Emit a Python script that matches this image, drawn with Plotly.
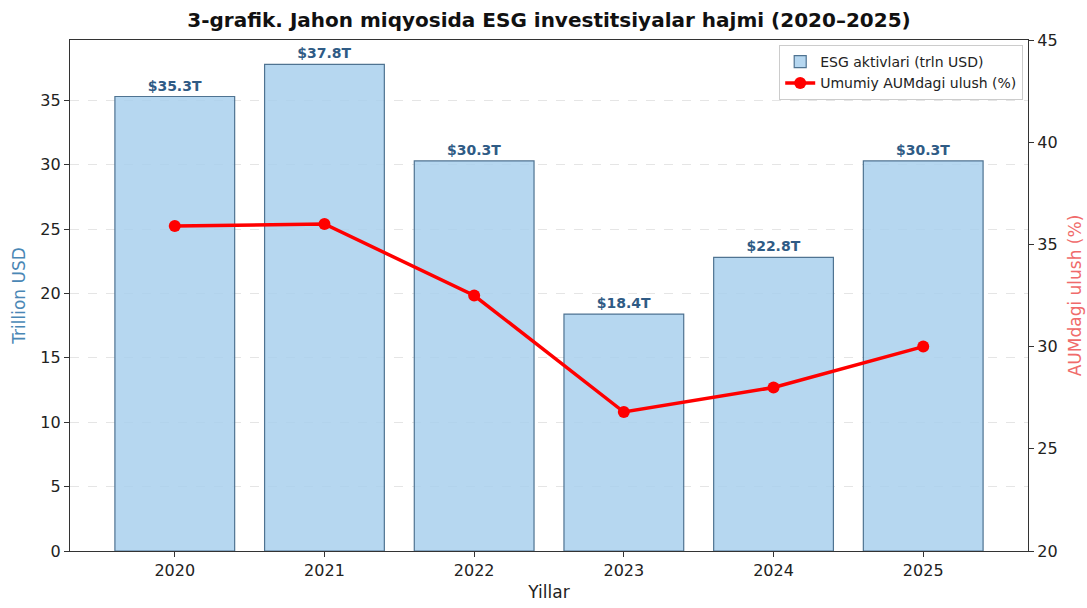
import plotly.graph_objects as go

years = ["2020", "2021", "2022", "2023", "2024", "2025"]
esg_assets = [35.3, 37.8, 30.3, 18.4, 22.8, 30.3]
aum_share = [35.9, 36.0, 32.5, 26.8, 28.0, 30.0]
bar_labels = ["$35.3T", "$37.8T", "$30.3T", "$18.4T", "$22.8T", "$30.3T"]
left_ticks = [0, 5, 10, 15, 20, 25, 30, 35]
right_ticks = [20, 25, 30, 35, 40, 45]

FONT = "DejaVu Sans"

fig = go.Figure()
fig.add_trace(go.Bar(
    x=list(range(len(years))), y=esg_assets, name="ESG aktivlari (trln USD)",
    width=0.8,
    marker=dict(color="rgba(166,206,237,0.82)", line=dict(color="#4f7391", width=1.2)),
    text=bar_labels, textposition="outside", cliponaxis=False,
    textfont=dict(family=FONT, size=14, color="#2f5b85", weight="bold"),
    yaxis="y",
))
fig.add_trace(go.Scatter(
    x=list(range(len(years))), y=aum_share, name="Umumiy AUMdagi ulush (%)",
    mode="lines+markers",
    line=dict(color="#ff0000", width=3.5),
    marker=dict(color="#ff0000", size=12),
    yaxis="y2",
))

fig.update_layout(
    width=1087, height=608,
    margin=dict(l=70, r=59, t=40, b=57),
    paper_bgcolor="white", plot_bgcolor="white",
    font=dict(family=FONT, size=16, color="#222222"),
    bargap=0.2,
    showlegend=True,
    title=dict(
        text="<b>3-grafik. Jahon miqyosida ESG investitsiyalar hajmi (2020–2025)</b>",
        x=0.5, xanchor="center", xref="paper", y=1 - 20 / 608, yanchor="middle", yref="container",
        font=dict(family=FONT, size=20, color="#111111"),
    ),
    xaxis=dict(
        range=[-0.7, 5.7], tickmode="array", tickvals=list(range(len(years))), ticktext=years,
        showline=True, linecolor="#333333", linewidth=1.2, mirror=True,
        ticks="outside", ticklen=5, tickcolor="#333333", showgrid=False, zeroline=False,
        automargin=False,
        title=dict(text="Yillar", font=dict(size=17, color="#222222"), standoff=6),
    ),
    yaxis=dict(
        range=[0, 39.69], tickmode="array", tickvals=left_ticks,
        showline=True, linecolor="#333333", linewidth=1.2,
        ticks="outside", ticklen=5, tickcolor="#333333",
        showgrid=True, gridcolor="rgba(180,180,180,0.35)", griddash="dash", gridwidth=1,
        zeroline=False, automargin=False,
        title=dict(text="Trillion USD", font=dict(size=17, color="#4a87b5"), standoff=10),
    ),
    yaxis2=dict(
        range=[20, 45], tickmode="array", tickvals=right_ticks,
        overlaying="y", side="right",
        showline=True, linecolor="#333333", linewidth=1.2,
        ticks="outside", ticklen=5, tickcolor="#333333",
        showgrid=False, zeroline=False, automargin=False,
        title=dict(text="AUMdagi ulush (%)", font=dict(size=17, color="#f06b6b"), standoff=12),
    ),
    legend=dict(
        x=0.995, xanchor="right", y=0.99, yanchor="top",
        bgcolor="rgba(255,255,255,0.85)", bordercolor="#cccccc", borderwidth=1,
        font=dict(size=14, color="#222222"),
    ),
)

fig.write_html("out.html")
